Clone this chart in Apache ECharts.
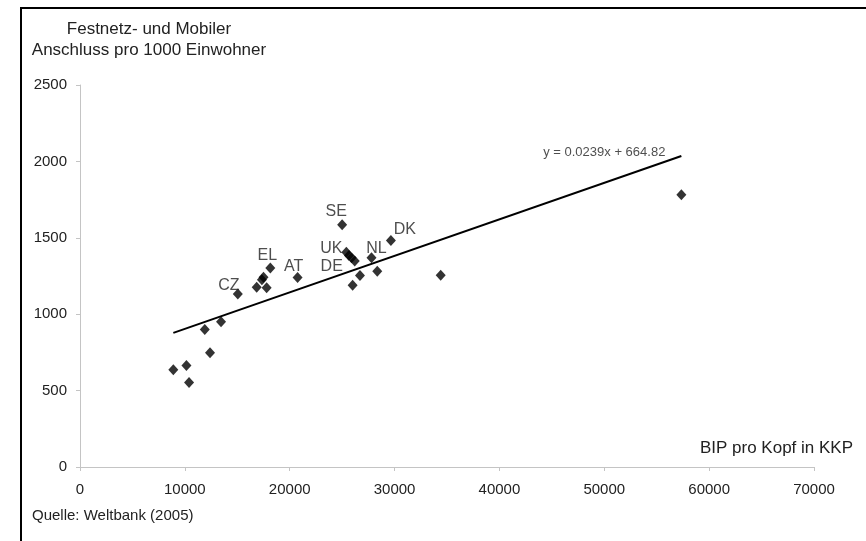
<!DOCTYPE html>
<html>
<head>
<meta charset="utf-8">
<script src="https://cdn.jsdelivr.net/npm/echarts@6/dist/echarts.min.js"></script>
<style>
  html, body { margin: 0; padding: 0; background: #fff; }
  #chart { width: 866px; height: 541px; }
</style>
</head>
<body>
<div id="chart"></div>
<script>
// GDP per capita (PPP) vs. fixed + mobile lines per 1000 inhabitants
const gdp =   [8900, 10150, 10400, 11900, 12400, 13450, 15050, 16850, 17350, 17500, 17800, 18150, 20750, 25000, 25400, 25650, 25900, 26200, 26000, 26700, 27800, 28350, 29650, 34400, 57350];
const lines = [ 636,   664,   553,   900,   748,   950,  1133,  1177,  1225,  1242,  1173,  1303,  1240,  1586,  1405,  1384,  1369,  1348,  1190,  1253,  1369,  1281,  1482,  1255,  1782];
const countryLabels = ['', '', '', '', '', '', 'CZ', '', '', '', '', 'EL', 'AT', 'SE', 'UK', '', '', 'DE', '', '', 'NL', '', 'DK', '', ''];

// linear trend: y = 0.0239x + 664.82
const slope = 0.0239;
const intercept = 664.82;
const trendText = 'y = 0.0239x + 664.82';

const xTicks = [0, 10000, 20000, 30000, 40000, 50000, 60000, 70000];
const yTicks = [0, 500, 1000, 1500, 2000, 2500];

const FONT = '"Liberation Sans", Arial, sans-serif';

// label centre relative to the marker centre (px)
const labelOffset = {
  CZ: [-9, -8],
  EL: [-3, -12],
  AT: [-4, -11],
  SE: [-6, -13],
  UK: [-15, -4],
  DE: [-23, 6],
  NL: [5, -9],
  DK: [14, -11]
};

const scatterData = gdp.map((x, i) => {
  const item = { value: [x, lines[i]] };
  const name = countryLabels[i];
  if (name) {
    item.label = {
      show: true,
      formatter: name,
      position: 'inside',
      offset: labelOffset[name],
      color: '#222',
      fontSize: 16,
      fontFamily: FONT
    };
  }
  return item;
});

const xMin = Math.min(...gdp);
const xMax = Math.max(...gdp);
const trendData = [
  [xMin, slope * xMin + intercept],
  [xMax, slope * xMax + intercept]
];

const chart = echarts.init(document.getElementById('chart'), null, { renderer: 'canvas' });

chart.setOption({
  animation: false,
  backgroundColor: '#fff',
  grid: { left: 80, right: 52, top: 85, bottom: 74, containLabel: false },
  xAxis: {
    type: 'value',
    min: xTicks[0],
    max: xTicks[xTicks.length - 1],
    interval: 10000,
    axisLine: { show: true, lineStyle: { color: '#c4c4c4', width: 1 } },
    axisTick: { show: true, length: 4, lineStyle: { color: '#c4c4c4' } },
    splitLine: { show: false },
    axisLabel: { color: '#222', fontSize: 15, fontFamily: FONT, margin: 15, formatter: v => String(v) }
  },
  yAxis: {
    type: 'value',
    min: yTicks[0],
    max: yTicks[yTicks.length - 1],
    interval: 500,
    axisLine: { show: true, lineStyle: { color: '#c4c4c4', width: 1 } },
    axisTick: { show: true, length: 4, lineStyle: { color: '#c4c4c4' } },
    splitLine: { show: false },
    axisLabel: { color: '#222', fontSize: 15, fontFamily: FONT, margin: 13, formatter: v => String(v) }
  },
  graphic: [
    {
      type: 'rect',
      shape: { x: 21, y: 8, width: 900, height: 600 },
      style: { fill: 'none', stroke: '#000', lineWidth: 2 },
      silent: true
    },
    {
      type: 'text',
      x: 149, y: 29,
      style: { text: 'Festnetz- und Mobiler', fill: '#222', font: '17px ' + FONT, align: 'center', verticalAlign: 'middle' }
    },
    {
      type: 'text',
      x: 149, y: 50,
      style: { text: 'Anschluss pro 1000 Einwohner', fill: '#222', font: '17px ' + FONT, align: 'center', verticalAlign: 'middle' }
    },
    {
      type: 'text',
      x: 853, y: 448,
      style: { text: 'BIP pro Kopf in KKP', fill: '#222', font: '17px ' + FONT, align: 'right', verticalAlign: 'middle' }
    },
    {
      type: 'text',
      x: 32, y: 516,
      style: { text: 'Quelle: Weltbank (2005)', fill: '#222', font: '15px ' + FONT, align: 'left', verticalAlign: 'middle' }
    }
  ],
  series: [
    {
      type: 'line',
      data: trendData,
      showSymbol: false,
      symbol: 'none',
      lineStyle: { color: '#000', width: 2 },
      z: 2
    },
    {
      type: 'scatter',
      data: scatterData,
      symbol: 'diamond',
      symbolSize: [10, 11],
      itemStyle: { color: '#000' },
      z: 3
    },
    {
      // carrier for the regression equation, anchored at the trend line's end
      type: 'scatter',
      data: [[xMax, slope * xMax + intercept]],
      symbolSize: 1,
      itemStyle: { color: 'rgba(0,0,0,0)' },
      label: {
        show: true,
        formatter: trendText,
        position: 'inside',
        align: 'right',
        offset: [-16, -4],
        color: '#222',
        fontSize: 13,
        fontFamily: FONT
      },
      silent: true,
      z: 4
    }
  ]
});
</script>
</body>
</html>
